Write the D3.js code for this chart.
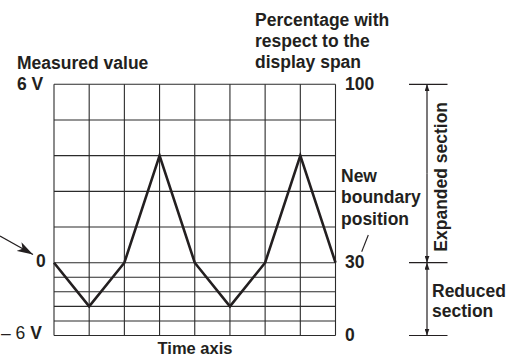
<!DOCTYPE html>
<html>
<head>
<meta charset="utf-8">
<script src="https://cdn.jsdelivr.net/npm/d3@7"></script>
<style>
  html, body { margin: 0; padding: 0; background: #fff; }
  svg { display: block; }
  text { font-family: "Liberation Sans", Arial, Helvetica, sans-serif; fill: #231f20; }
</style>
</head>
<body>
<svg id="chart" width="509" height="358"></svg>
<script>
// ---- data ----
const timeDivisions = [0, 1, 2, 3, 4, 5, 6, 7, 8];
const measuredValues = [0, -3.6, 0, 3.6, 0, -3.6, 0, 3.6, 0];
const upperGridValues = [1.2, 2.4, 3.6, 4.8];
const lowerGridValues = [-4.8, -3.6, -2.4, -1.2];
const voltageDomain = [-6, 0, 6];
const percentDomain = [0, 30, 100];
const percentLabels = ["0", "30", "100"];
const titleLeft = "Measured value";
const titleRight = ["Percentage with", "respect to the", "display span"];
const boundaryNote = ["New", "boundary", "position"];
const xTitle = "Time axis";

// ---- layout ----
const W = 509, H = 358;
const L = 54, R = 335.5, T = 84.3, B = 335.5, Z = 262.7;
const svg = d3.select("#chart");
const ink = "#231f20";
const fs = "17.5px";

const x = d3.scaleLinear().domain([0, 8]).range([L, R]);
const y = d3.scaleLinear().domain(voltageDomain).range([B, Z, T]);
const p = d3.scaleLinear().domain(percentDomain).range([B, Z, T]);

// grid
const g = svg.append("g").attr("stroke", "#2b2b2b").attr("stroke-width", 1.1).attr("fill", "none");
g.selectAll("line.v").data(timeDivisions).join("line")
  .attr("x1", d => x(d)).attr("x2", d => x(d)).attr("y1", T).attr("y2", B);
g.selectAll("line.h").data([...voltageDomain, ...upperGridValues, ...lowerGridValues]).join("line")
  .attr("x1", L).attr("x2", R).attr("y1", d => y(d)).attr("y2", d => y(d));

// waveform
svg.append("path")
  .datum(timeDivisions.map((t, i) => [t, measuredValues[i]]))
  .attr("fill", "none").attr("stroke", ink).attr("stroke-width", 2.6)
  .attr("stroke-linejoin", "miter")
  .attr("d", d3.line().x(d => x(d[0])).y(d => y(d[1])));

// text helpers
function txt(s, xx, yy, weight = "bold", anchor = "start") {
  return svg.append("text").attr("x", xx).attr("y", yy)
    .attr("font-size", fs).attr("font-weight", weight).attr("text-anchor", anchor).text(s);
}

// left labels
txt(titleLeft, 17, 69);
txt("6 V", 17, 89.5);
txt("0", 36, y(0) + 4.5);
const neg = svg.append("text").attr("x", 1).attr("y", 339).attr("font-size", fs);
neg.append("tspan").attr("font-weight", "normal").text("\u2013 6 ");
neg.append("tspan").attr("font-weight", "bold").text("V");

// left arrow pointing at 0
const defs = svg.append("defs");
defs.append("marker").attr("id", "bigArrow").attr("viewBox", "0 0 16 10")
  .attr("refX", 16).attr("refY", 5).attr("markerWidth", 16).attr("markerHeight", 10)
  .attr("markerUnits", "userSpaceOnUse").attr("orient", "auto")
  .append("path").attr("d", "M0,0 L16,5 L0,10 L4,5 Z").attr("fill", ink);
svg.append("line").attr("x1", 0).attr("y1", 236).attr("x2", 33).attr("y2", 254.5)
  .attr("stroke", ink).attr("stroke-width", 1.2).attr("marker-end", "url(#bigArrow)");

// right labels
titleRight.forEach((s, i) => txt(s, 255, 25.5 + i * 21));
percentLabels.forEach((s, i) => txt(s, 345, p(percentDomain[i]) + 5.5));
boundaryNote.forEach((s, i) => txt(s, 341, 182 + i * 21.3));
svg.append("line").attr("x1", 368.3).attr("y1", 235).attr("x2", 361.7).attr("y2", 251.7)
  .attr("stroke", ink).attr("stroke-width", 1.1);

// dimension brackets
const bx = 427;
defs.append("marker").attr("id", "smallArrow").attr("viewBox", "0 0 7 5")
  .attr("refX", 7).attr("refY", 2.5).attr("markerWidth", 7).attr("markerHeight", 5)
  .attr("markerUnits", "userSpaceOnUse").attr("orient", "auto")
  .append("path").attr("d", "M0,0 L7,2.5 L0,5 Z").attr("fill", ink);
[100, 30, 0].forEach(v => {
  svg.append("line").attr("x1", 409).attr("x2", 447.5).attr("y1", p(v)).attr("y2", p(v))
    .attr("stroke", ink).attr("stroke-width", 1.2);
});
[[30, 100], [30, 0]].forEach(([a, b]) => {
  const mid = (p(a) + p(b)) / 2;
  [a, b].forEach(v => {
    svg.append("line").attr("x1", bx).attr("x2", bx).attr("y1", mid).attr("y2", p(v))
      .attr("stroke", ink).attr("stroke-width", 1.2).attr("marker-end", "url(#smallArrow)");
  });
});
svg.append("text").attr("transform", "translate(446.5,251.7) rotate(-90)")
  .attr("font-size", fs).attr("font-weight", "bold").text("Expanded section");
txt("Reduced", 432, 297);
txt("section", 432, 317);

// x title
txt(xTitle, 195, 353.5, "bold", "middle").attr("font-size", "16.5px");
</script>
</body>
</html>
